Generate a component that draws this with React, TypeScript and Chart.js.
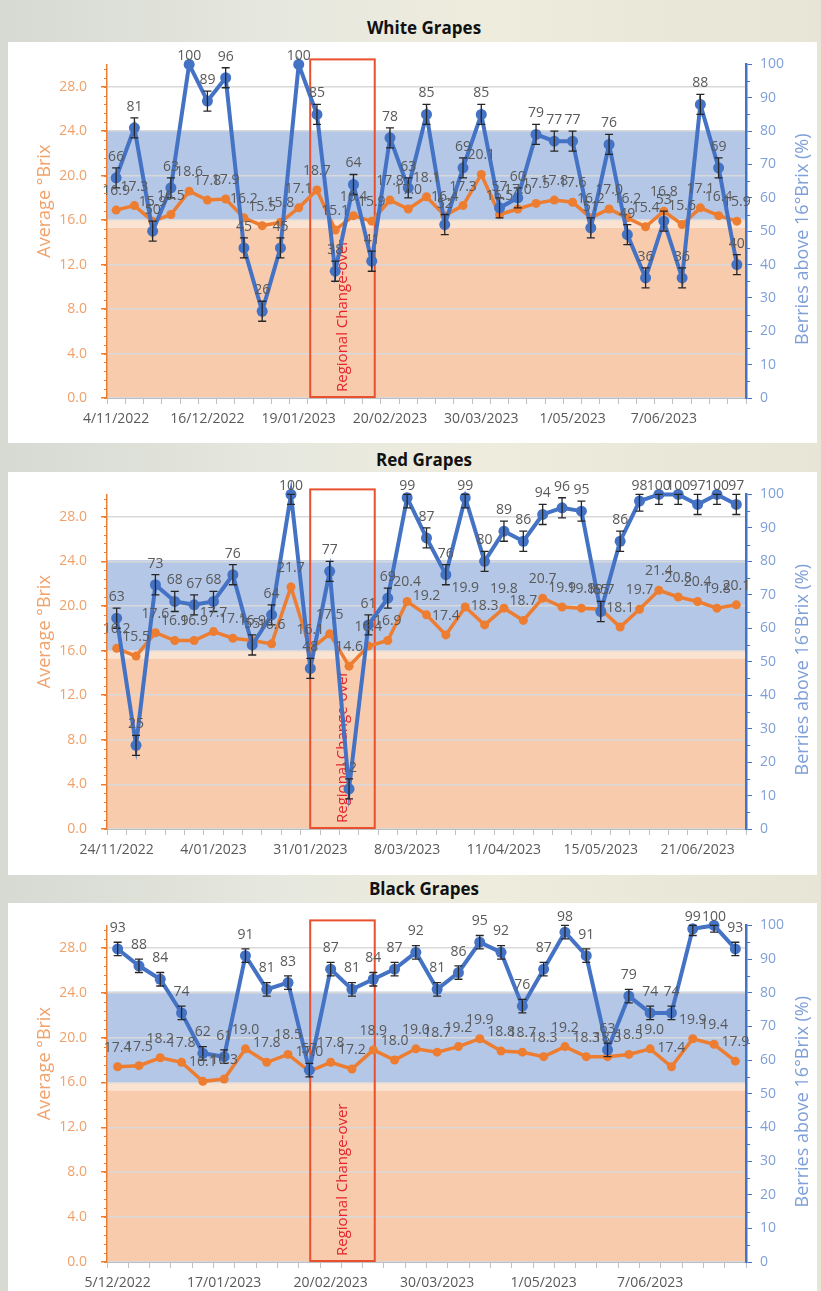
import React, { useEffect, useRef } from 'react';
import { Chart, registerables } from 'chart.js';

Chart.register(...registerables);

// ---------- White grapes ----------
const whiteTicks = ['4/11/2022', '16/12/2022', '19/01/2023', '20/02/2023', '30/03/2023', '1/05/2023', '7/06/2023'];
const whiteBrix = [16.9, 17.3, 15.9, 16.5, 18.6, 17.8, 17.9, 16.2, 15.5, 15.8, 17.1, 18.7, 15.1, 16.4, 15.9, 17.8, 17.0, 18.1, 16.4, 17.3, 20.1, 16.5, 17.0, 17.5, 17.8, 17.6, 16.2, 17.0, 16.2, 15.4, 16.8, 15.6, 17.1, 16.4, 15.9];
const whiteBerries = [66, 81, 50, 63, 100, 89, 96, 45, 26, 45, 100, 85, 38, 64, 41, 78, 63, 85, 52, 69, 85, 57, 60, 79, 77, 77, 51, 76, 49, 36, 53, 36, 88, 69, 40];
const whiteErr = [3, 3, 3, 3, 0, 3, 3, 3, 3, 3, 0, 3, 3, 3, 3, 3, 3, 3, 3, 3, 3, 3, 3, 3, 3, 3, 3, 3, 3, 3, 3, 3, 3, 3, 3];

// ---------- Red grapes ----------
const redTicks = ['24/11/2022', '4/01/2023', '31/01/2023', '8/03/2023', '11/04/2023', '15/05/2023', '21/06/2023'];
const redBrix = [16.2, 15.5, 17.6, 16.9, 16.9, 17.7, 17.1, 16.9, 16.6, 21.7, 16.1, 17.5, 14.6, 16.4, 16.9, 20.4, 19.2, 17.4, 19.9, 18.3, 19.8, 18.7, 20.7, 19.9, 19.8, 19.7, 18.1, 19.7, 21.4, 20.8, 20.4, 19.8, 20.1];
const redBerries = [63, 25, 73, 68, 67, 68, 76, 55, 64, 100, 48, 77, 12, 61, 69, 99, 87, 76, 99, 80, 89, 86, 94, 96, 95, 65, 86, 98, 100, 100, 97, 100, 97];
const redErr = [3, 3, 3, 3, 3, 3, 3, 3, 3, 3, 3, 3, 3, 3, 3, 3, 3, 3, 3, 3, 3, 3, 3, 3, 3, 3, 3, 3, 3, 3, 3, 3, 3];

// ---------- Black grapes ----------
const blackTicks = ['5/12/2022', '17/01/2023', '20/02/2023', '30/03/2023', '1/05/2023', '7/06/2023'];
const blackBrix = [17.4, 17.5, 18.2, 17.8, 16.1, 16.3, 19.0, 17.8, 18.5, 17.0, 17.8, 17.2, 18.9, 18.0, 19.0, 18.7, 19.2, 19.9, 18.8, 18.7, 18.3, 19.2, 18.3, 18.3, 18.5, 19.0, 17.4, 19.9, 19.4, 17.9];
const blackBerries = [93, 88, 84, 74, 62, 61, 91, 81, 83, 57, 87, 81, 84, 87, 92, 81, 86, 95, 92, 76, 87, 98, 91, 63, 79, 74, 74, 99, 100, 93];
const blackErr = [2, 2, 2, 2, 2, 2, 2, 2, 2, 2, 2, 2, 2, 2, 2, 2, 2, 2, 2, 2, 2, 2, 2, 2, 2, 2, 2, 2, 2, 2];

// Background bands (°Brix) and the change-over annotation
const bandLimits = [0, 15.3, 16.0, 24.1];
const bandColors = ['#f8cbad', '#fbe3d2', '#b4c7e7'];
const changeoverSpan = [0.318, 0.419];
const changeoverText = 'Regional Change-over';
const tickEvery = 5;

const ORANGE = '#ed7d31';
const BLUE = '#4472c4';
const FONT = '"Open Sans", "Noto Sans", sans-serif';

type PanelDef = {
  title: string;
  ticks: string[];
  brix: number[];
  berries: number[];
  err: number[];
  top: number;
  height: number;
  padTop: number;
  xHeight: number;
  titleY: number;
};

const panels: PanelDef[] = [
  { title: 'White Grapes', ticks: whiteTicks, brix: whiteBrix, berries: whiteBerries, err: whiteErr, top: 42, height: 401, padTop: 20, xHeight: 45, titleY: 28 },
  { title: 'Red Grapes', ticks: redTicks, brix: redBrix, berries: redBerries, err: redErr, top: 472, height: 403, padTop: 20, xHeight: 46, titleY: 460 },
  { title: 'Black Grapes', ticks: blackTicks, brix: blackBrix, berries: blackBerries, err: blackErr, top: 903, height: 388, padTop: 22, xHeight: 29, titleY: 889 },
];

const CANVAS_LEFT = 8;
const CANVAS_W = 809;

function makePlugin(p: PanelDef) {
  return {
    id: 'grapePanel',
    beforeDraw(chart: any) {
      const { ctx, chartArea: a } = chart;
      const ys = chart.scales.y;
      ctx.save();
      for (let i = 0; i < bandColors.length; i++) {
        const yT = ys.getPixelForValue(bandLimits[i + 1]);
        const yB = ys.getPixelForValue(bandLimits[i]);
        ctx.fillStyle = bandColors[i];
        ctx.fillRect(a.left, yT, a.right - a.left, yB - yT);
      }
      ctx.restore();
    },
    beforeDatasetsDraw(chart: any) {
      const { ctx, chartArea: a } = chart;
      const w = a.right - a.left;
      const x1 = a.left + w * changeoverSpan[0];
      const x2 = a.left + w * changeoverSpan[1];
      const yT = a.top - 5;
      const yB = a.bottom - 1;
      ctx.save();
      ctx.strokeStyle = '#e8502e';
      ctx.lineWidth = 2;
      ctx.strokeRect(x1, yT, x2 - x1, yB - yT);
      ctx.translate((x1 + x2) / 2, yB - 5);
      ctx.rotate(-Math.PI / 2);
      ctx.fillStyle = '#e4232b';
      ctx.font = `15px ${FONT}`;
      ctx.textAlign = 'left';
      ctx.textBaseline = 'middle';
      ctx.fillText(changeoverText, 0, 0);
      ctx.restore();
    },
    afterDatasetsDraw(chart: any) {
      const { ctx } = chart;
      const y2 = chart.scales.y2;
      const blueMeta = chart.getDatasetMeta(0);
      const orangeMeta = chart.getDatasetMeta(1);
      ctx.save();
      // error bars
      ctx.strokeStyle = '#262626';
      ctx.lineWidth = 1.3;
      blueMeta.data.forEach((pt: any, i: number) => {
        const e = p.err[i];
        if (!e) return;
        const v = p.berries[i];
        const yHi = y2.getPixelForValue(Math.min(v + e, 100));
        const yLo = y2.getPixelForValue(v - e);
        ctx.beginPath();
        ctx.moveTo(pt.x, yHi);
        ctx.lineTo(pt.x, yLo);
        ctx.moveTo(pt.x - 4, yHi);
        ctx.lineTo(pt.x + 4, yHi);
        ctx.moveTo(pt.x - 4, yLo);
        ctx.lineTo(pt.x + 4, yLo);
        ctx.stroke();
      });
      // data labels
      ctx.font = `14px ${FONT}`;
      ctx.fillStyle = '#595959';
      ctx.textAlign = 'center';
      ctx.textBaseline = 'bottom';
      orangeMeta.data.forEach((pt: any, i: number) => {
        ctx.fillText(p.brix[i].toFixed(1), pt.x, Math.max(pt.y - 12, 21));
      });
      blueMeta.data.forEach((pt: any, i: number) => {
        ctx.fillText(String(p.berries[i]), pt.x, Math.max(pt.y - 14, 21));
      });
      ctx.restore();
    },
    afterDraw(chart: any) {
      const { ctx, chartArea: a } = chart;
      const ys = chart.scales.y;
      const y2 = chart.scales.y2;
      ctx.save();
      // minor ticks
      ctx.strokeStyle = ORANGE;
      ctx.lineWidth = 1;
      for (let k = 0; k <= 37; k++) {
        const yy = Math.round(ys.getPixelForValue(k * 0.8)) + 0.5;
        ctx.beginPath();
        ctx.moveTo(a.left - 3, yy);
        ctx.lineTo(a.left, yy);
        ctx.stroke();
      }
      ctx.strokeStyle = BLUE;
      for (let k = 5; k < 100; k += 10) {
        const yy = Math.round(y2.getPixelForValue(k)) + 0.5;
        ctx.beginPath();
        ctx.moveTo(a.right, yy);
        ctx.lineTo(a.right + 4, yy);
        ctx.stroke();
      }
      // axis titles
      const midY = (a.top + a.bottom) / 2;
      ctx.font = `18px ${FONT}`;
      ctx.textAlign = 'center';
      ctx.textBaseline = 'middle';
      ctx.fillStyle = '#f0a26a';
      ctx.save();
      ctx.translate(37, midY - 30);
      ctx.rotate(-Math.PI / 2);
      ctx.fillText('Average °Brix', 0, 0);
      ctx.restore();
      ctx.fillStyle = '#7f9fd8';
      ctx.save();
      ctx.translate(795, midY + 8);
      ctx.rotate(-Math.PI / 2);
      ctx.fillText('Berries above 16°Brix (%)', 0, 0);
      ctx.restore();
      ctx.restore();
    },
  };
}

function Panel({ p }: { p: PanelDef }) {
  const ref = useRef<HTMLCanvasElement | null>(null);
  useEffect(() => {
    if (!ref.current) return;
    const labels = p.brix.map((_, i) => (i % tickEvery === 0 ? p.ticks[i / tickEvery] ?? '' : ''));
    const chart = new Chart(ref.current, {
      type: 'line',
      data: {
        labels,
        datasets: [
          {
            label: 'Berries above 16°Brix (%)',
            data: p.berries,
            yAxisID: 'y2',
            borderColor: BLUE,
            backgroundColor: BLUE,
            pointBackgroundColor: BLUE,
            pointBorderColor: BLUE,
            borderWidth: 4,
            pointRadius: 5.5,
            pointBorderWidth: 0,
            tension: 0,
            order: 0,
            clip: false,
          } as any,
          {
            label: 'Average °Brix',
            data: p.brix,
            yAxisID: 'y',
            borderColor: ORANGE,
            backgroundColor: ORANGE,
            pointBackgroundColor: ORANGE,
            pointBorderColor: ORANGE,
            borderWidth: 3.5,
            pointRadius: 4.5,
            pointBorderWidth: 0,
            tension: 0,
            order: 1,
            clip: false,
          } as any,
        ],
      },
      options: {
        animation: false,
        responsive: false,
        maintainAspectRatio: false,
        layout: { padding: { top: p.padTop, left: 0, right: 0, bottom: 0 } },
        plugins: { legend: { display: false }, tooltip: { enabled: false }, title: { display: false } },
        scales: {
          x: {
            type: 'category',
            offset: true,
            grid: { offset: true, drawOnChartArea: false, drawTicks: true, tickLength: 6, color: '#bfbfbf' },
            border: { color: '#bfbfbf', width: 1 },
            ticks: {
              autoSkip: false,
              maxRotation: 0,
              minRotation: 0,
              padding: 7,
              color: '#595959',
              font: { size: 14, family: FONT },
              callback: (_v: any, i: number) => labels[i],
            },
            afterFit: (s: any) => { s.height = p.xHeight; },
          },
          y: {
            position: 'left',
            min: 0,
            max: 30,
            ticks: {
              stepSize: 4,
              padding: 14,
              color: '#f0a06a',
              font: { size: 14, family: FONT },
              callback: (v: any) => Number(v).toFixed(1),
            },
            afterBuildTicks: (s: any) => { s.ticks = s.ticks.filter((t: any) => t.value <= 28.001); },
            afterFit: (s: any) => { s.width = 99; },
            grid: { color: '#d9d9d9', lineWidth: 1.5, tickColor: ORANGE, tickLength: 6 },
            border: { color: ORANGE, width: 1.5 },
          },
          y2: {
            position: 'right',
            min: 0,
            max: 100,
            ticks: {
              stepSize: 10,
              padding: 8,
              color: '#7f9fd8',
              font: { size: 14, family: FONT },
            },
            afterFit: (s: any) => { s.width = 71; },
            grid: { drawOnChartArea: false, tickColor: BLUE, tickLength: 6 },
            border: { color: BLUE, width: 2.5 },
          },
        },
      } as any,
      plugins: [makePlugin(p)],
    });
    return () => chart.destroy();
  }, [p]);

  return (
    <>
      <div
        style={{
          position: 'absolute',
          left: 0,
          width: 848,
          top: p.titleY - 11,
          height: 22,
          lineHeight: '22px',
          textAlign: 'center',
          fontFamily: FONT,
          fontWeight: 700,
          fontSize: 17,
          color: '#111',
        }}
      >
        {p.title}
      </div>
      <canvas
        ref={ref}
        width={CANVAS_W}
        height={p.height}
        style={{ position: 'absolute', left: CANVAS_LEFT, top: p.top, width: CANVAS_W, height: p.height, background: '#ffffff' }}
      />
    </>
  );
}

export default function App() {
  return (
    <div
      style={{
        position: 'absolute',
        left: 0,
        top: 0,
        width: 821,
        height: 1291,
        overflow: 'hidden',
        background: 'linear-gradient(90deg, #d6dad2 0%, #e7e8df 35%, #eeecdc 60%, #e6e5d6 100%)',
      }}
    >
      {panels.map((p) => (
        <Panel key={p.title} p={p} />
      ))}
    </div>
  );
}
